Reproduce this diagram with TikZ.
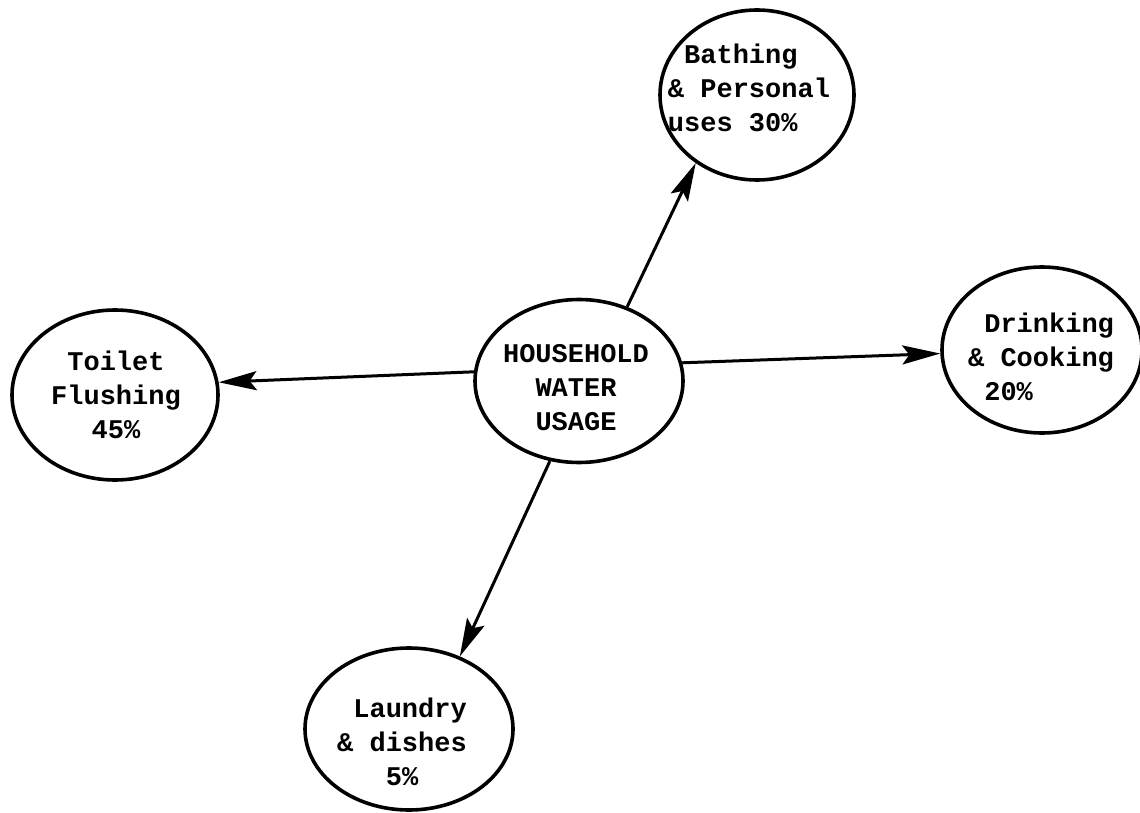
\documentclass[tikz,border=0pt]{standalone}
\usepackage{fontspec}
\newfontfamily\tw{Liberation Mono}
\usetikzlibrary{shapes.geometric,arrows.meta}
\begin{document}
\begin{tikzpicture}[x=1pt,y=-1pt,
  ell/.style={draw,ellipse,line width=3.6pt,inner sep=0pt},
  lbl/.style={font=\tw\bfseries\fontsize{27}{34}\selectfont,inner sep=0pt},
  arr/.style={line width=3pt,-{Stealth[length=38pt,width=19pt,inset=7pt]}}]
\useasboundingbox (0,0) rectangle (1140,813);
\node[ell,minimum width=208pt,minimum height=163pt] (c) at (579,381) {};
\node[ell,minimum width=194pt,minimum height=170pt] (b) at (757,95) {};
\node[ell,minimum width=206pt,minimum height=170pt] (t) at (115,395) {};
\node[ell,minimum width=200pt,minimum height=166pt] (d) at (1042,350) {};
\node[ell,minimum width=208pt,minimum height=162pt] (l) at (409,729) {};
\node[lbl,align=center] (ct) at (576,388) {HOUSEHOLD\\WATER\\USAGE};
\node[lbl,align=left] (bt) at (749,88) {\hphantom{x}Bathing\\\&\hphantom{x}Personal\\uses\hphantom{x}30\%};
\node[lbl,align=center] (tt) at (116,395) {Toilet\\Flushing\\45\%};
\node[lbl,align=left] (dt) at (1041,357) {\hphantom{x}Drinking\\\&\hphantom{x}Cooking\\\hphantom{x}20\%};
\node[lbl,align=left] (lt) at (402,742) {\hphantom{x}Laundry\\\&\hphantom{x}dishes\\\hphantom{xxx}5\%};
\draw[arr] (c.57) -- (b.228);
\draw[arr] (c.175) -- (t.7);
\draw[arr] (c.10) -- (d.182);
\draw[arr] (c.250) -- (l.55);
\end{tikzpicture}
\end{document}
